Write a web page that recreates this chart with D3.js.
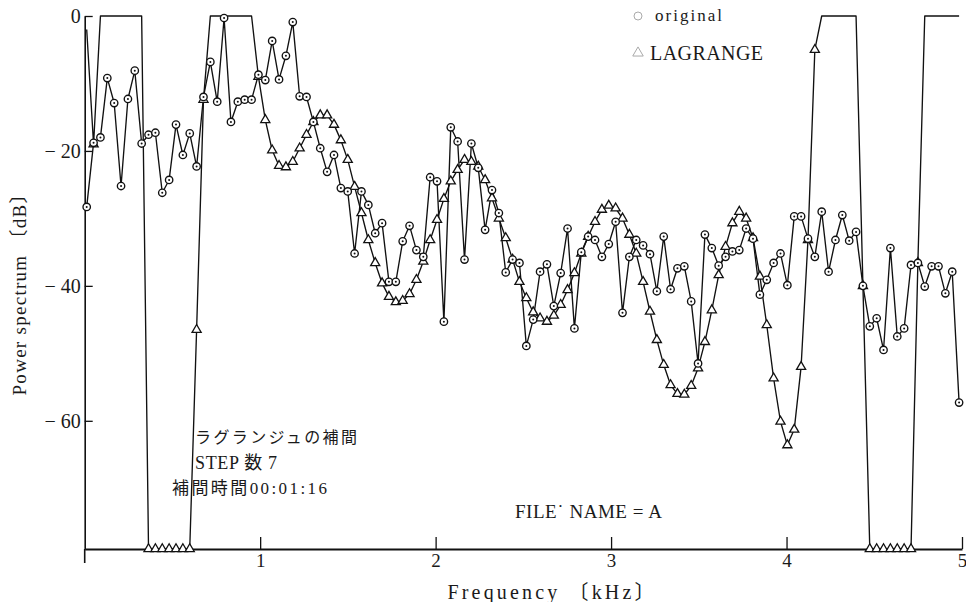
<!DOCTYPE html>
<html>
<head>
<meta charset="utf-8">
<script src="https://cdn.jsdelivr.net/npm/d3@7"></script>
<style>
  html, body { margin: 0; padding: 0; background: #fff; }
  svg { display: block; }
  text { fill: #1a1a1a; }
</style>
</head>
<body>
<svg id="chart" width="966" height="602"></svg>
<script>
// ---- data -------------------------------------------------------------
// spectrum bins: first bin frequency and bin spacing (kHz)
const binStart = 0.0114;
const binStep = 0.03915;

// power spectrum of the original signal (dB), one value per bin
const original = [
  -28.3, -18.8, -18, -9.2, -12.9, -25.2, -12.3, -8.1, -18.9, -17.6, -17.3, -26.2, -24.3, -16.1, -20.6, -17.4,
  -22.3, -12, -6.8, -12.7, -0.3, -15.7, -12.7, -12.4, -12.4, -8.7, -9.5, -3.7, -9.4, -5.9, -0.9, -11.9,
  -12, -15.7, -19.6, -23.1, -20.6, -25.5, -26, -35.2, -26, -28, -32.2, -30.7, -39.4, -39.4, -33.4, -31.1,
  -34.7, -35.7, -23.9, -24.5, -45.3, -16.5, -18.6, -36.1, -18.9, -22.5, -31.7, -25.8, -29.2, -38, -36.1, -36.6,
  -48.9, -45, -37.9, -36.8, -43, -38.1, -31.5, -46.3, -35, -32.7, -33.2, -35.7, -33.8, -30.5, -44, -35.7,
  -33.2, -34, -35.3, -40.8, -32.7, -40.5, -37.4, -37.1, -42.3, -51.5, -32.4, -34.4, -37, -35.7, -34.9, -34.7,
  -31.5, -33, -41.3, -39.1, -36.6, -35.2, -39.9, -29.7, -29.7, -33, -35.7, -29, -37.9, -33.2, -29.5, -33.3,
  -32, -40, -46, -44.8, -49.5, -34.4, -47.5, -46.3, -36.9, -36.6, -40.1, -37.1, -37.1, -41.1, -37.9, -57.3
];

// power spectrum after Lagrange interpolation (dB), clipped to the plot range
const lagrange = [
  -2, -19, 0, 0, 0, 0, 0, 0, 0, -79, -79, -79, -79, -79, -79, -79,
  -46.5, -12.4, 0, 0, 0, 0, 0, 0, 0, -9, -15.4, -19.9, -22.2, -22.4, -21.6, -19.6,
  -17.6, -15.7, -14.7, -14.7, -16.1, -18.4, -21.3, -25.3, -29.2, -33.2, -36.6, -39.6, -41.6, -42.4, -42.2, -41.2,
  -39.1, -36.4, -33.2, -30.2, -27.1, -24.5, -22.8, -21.3, -21.6, -22.3, -24.3, -27, -30, -32.9, -36.1, -39.4,
  -41.8, -43.9, -44.8, -45.3, -44.4, -42.8, -40.6, -38.1, -35.2, -32.7, -30.5, -28.7, -28.1, -28.5, -30, -32.4,
  -35.2, -39.4, -43.8, -48, -51.7, -54.7, -56, -56.1, -54.8, -52.2, -48.3, -43.6, -38.4, -34.2, -30.7, -29,
  -30, -32.9, -38.6, -45.8, -53.7, -60.1, -63.6, -61.3, -52, -33.2, -5, 0, 0, 0, 0, 0,
  0, -40, -79, -79, -79, -79, -79, -79, -79, -36.6, 0, 0, 0, 0, 0, 0
];

const xTicks = [1, 2, 3, 4, 5];
const yTicks = [0, -20, -40, -60];
const seriesNames = ["original", "LAGRANGE"];
const noteLines = ["ラグランジュの補間", "STEP 数 7", "補間時間00:01:16"];
const fileLabel = "FILE˙ NAME = A";
const xTitle = "Frequency 〔kHz〕";
const yTitle = "Power spectrum 〔dB〕";

// ---- scales -----------------------------------------------------------
const svg = d3.select("#chart");
const x = d3.scaleLinear().domain([0, 5]).range([84.7, 962]);
const y = d3.scaleLinear().domain([-79, 0]).range([549, 16]);
const freq = i => binStart + i * binStep;

const serif = "'Liberation Serif', 'Times New Roman', 'Noto Sans CJK JP', serif";
const cjk = "'Liberation Serif', 'Noto Sans CJK JP', sans-serif";

// ---- axes -------------------------------------------------------------
const xAxis = d3.axisBottom(x).tickValues(xTicks).tickSizeInner(-12).tickSizeOuter(0)
  .tickPadding(5).tickFormat(d3.format("d"));
const gx = svg.append("g").attr("transform", `translate(0,${y(-79)})`).call(xAxis);
gx.select(".domain").attr("stroke", "#111").attr("stroke-width", 2);
gx.selectAll(".tick line").attr("stroke", "#111").attr("stroke-width", 1.3);
gx.selectAll(".tick text").attr("font-family", serif).attr("font-size", 19).attr("fill", "#1a1a1a");

const yAxis = d3.axisLeft(y).tickValues(yTicks).tickSizeInner(-8).tickSizeOuter(0)
  .tickPadding(4).tickFormat(d => d === 0 ? "0" : "\u2212 " + Math.abs(d));
const gy = svg.append("g").attr("transform", `translate(${x(0)},0)`).call(yAxis);
gy.select(".domain").attr("stroke", "#111").attr("stroke-width", 1.6);
gy.selectAll(".tick line").attr("stroke", "#111").attr("stroke-width", 1.3);
gy.selectAll(".tick text").attr("font-family", serif).attr("font-size", 20).attr("fill", "#1a1a1a");

// left axis runs a little past the frequency axis
svg.append("line")
  .attr("x1", x(0)).attr("x2", x(0))
  .attr("y1", y(-79)).attr("y2", y(-79) + 14)
  .attr("stroke", "#111").attr("stroke-width", 1.6);

// ---- series -----------------------------------------------------------
const line = d3.line().x((d, i) => x(freq(i))).y(d => y(d));

svg.append("path").datum(lagrange).attr("d", line)
  .attr("fill", "none").attr("stroke", "#111").attr("stroke-width", 1.35).attr("stroke-linejoin", "round");
svg.append("path").datum(original).attr("d", line)
  .attr("fill", "none").attr("stroke", "#111").attr("stroke-width", 1.35).attr("stroke-linejoin", "round");

// triangles for the interpolated spectrum; points at the 0 dB ceiling carry no marker
const tri = d3.symbol(d3.symbolTriangle, 36);
svg.append("g").selectAll("path")
  .data(lagrange.map((v, i) => ({ v, i })).filter(d => d.v < -3))
  .join("path")
  .attr("d", tri)
  .attr("transform", d => `translate(${x(freq(d.i))},${y(d.v)})`)
  .attr("fill", "#fff").attr("stroke", "#111").attr("stroke-width", 1.3);

// circles for the original spectrum
const circ = svg.append("g").selectAll("g")
  .data(original.map((v, i) => ({ v, i })))
  .join("g")
  .attr("transform", d => `translate(${x(freq(d.i))},${y(d.v)})`);
circ.append("circle").attr("r", 3.7).attr("fill", "#fff").attr("stroke", "#111").attr("stroke-width", 1.35);
circ.append("circle").attr("r", 1).attr("fill", "#111");

// ---- legend -----------------------------------------------------------
const legend = svg.append("g");
legend.append("circle").attr("cx", 638).attr("cy", 16).attr("r", 4)
  .attr("fill", "none").attr("stroke", "#aaa").attr("stroke-width", 1);
legend.append("path").attr("d", d3.symbol(d3.symbolTriangle, 48))
  .attr("transform", "translate(638,53)")
  .attr("fill", "none").attr("stroke", "#aaa").attr("stroke-width", 1);
legend.append("text").text(seriesNames[0])
  .attr("x", 655).attr("y", 16).attr("dy", "0.32em")
  .attr("font-family", serif).attr("font-size", 17)
  .attr("textLength", 67).attr("lengthAdjust", "spacing");
legend.append("text").text(seriesNames[1])
  .attr("x", 650).attr("y", 53).attr("dy", "0.35em")
  .attr("font-family", serif).attr("font-size", 20)
  .attr("textLength", 113).attr("lengthAdjust", "spacing");

// ---- annotations ------------------------------------------------------
const notes = [
  { t: noteLines[0], x: 195, y: 437, w: 162, fs: 16 },
  { t: noteLines[1], x: 195, y: 463, w: 82, fs: 18 },
  { t: noteLines[2], x: 172, y: 488, w: 155, fs: 17 }
];
svg.append("g").selectAll("text").data(notes).join("text")
  .text(d => d.t)
  .attr("x", d => d.x).attr("y", d => d.y).attr("dy", "0.36em")
  .attr("font-family", cjk).attr("font-size", d => d.fs)
  .attr("textLength", d => d.w).attr("lengthAdjust", "spacing");

svg.append("text").text(fileLabel)
  .attr("x", 515).attr("y", 511).attr("dy", "0.35em")
  .attr("font-family", serif).attr("font-size", 19)
  .attr("textLength", 147).attr("lengthAdjust", "spacing");

// ---- axis titles ------------------------------------------------------
svg.append("text").text(xTitle)
  .attr("x", 551).attr("y", 592).attr("dy", "0.35em")
  .attr("text-anchor", "middle")
  .attr("font-family", serif).attr("font-size", 20)
  .attr("textLength", 207).attr("lengthAdjust", "spacing");

svg.append("text").text(yTitle)
  .attr("transform", "translate(19,290) rotate(-90)")
  .attr("dy", "0.35em")
  .attr("text-anchor", "middle")
  .attr("font-family", serif).attr("font-size", 19)
  .attr("textLength", 211).attr("lengthAdjust", "spacing");
</script>
</body>
</html>
